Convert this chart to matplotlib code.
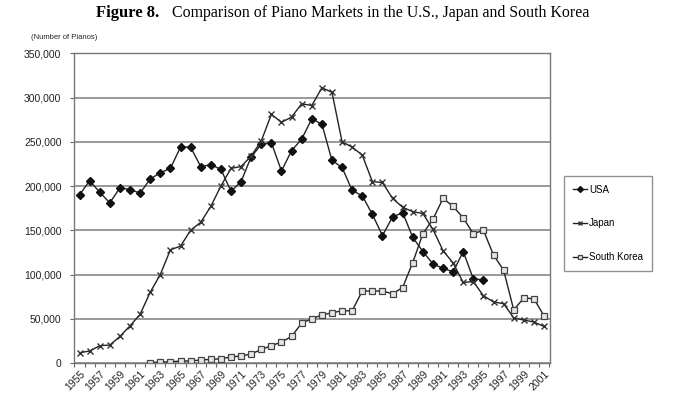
import matplotlib
matplotlib.use('Agg')
import matplotlib.pyplot as plt
import numpy as np

# data
years = list(range(1955, 2002))
usa_years = list(range(1955, 1996))
usa = [190000, 206000, 193000, 181000, 198000, 196000, 192000, 208000, 215000, 220000,
       244000, 244000, 222000, 224000, 219000, 194000, 205000, 233000, 247000, 249000,
       217000, 240000, 253000, 276000, 270000, 229000, 221000, 195000, 189000, 168000,
       144000, 165000, 170000, 142000, 126000, 112000, 107000, 103000, 126000, 95000,
       94000]
japan = [11600, 13500, 19500, 20300, 30000, 42000, 55000, 80000, 100000, 128000,
         132000, 150000, 159000, 177000, 200000, 220000, 222000, 234000, 251000, 281000,
         272000, 278000, 293000, 291000, 311000, 306000, 250000, 244000, 235000, 205000,
         204000, 186000, 176000, 171000, 169000, 151000, 127000, 113000, 91000, 92000,
         76000, 69000, 67000, 51000, 48500, 46300, 41300]
korea_years = list(range(1962, 2002))
korea = [500, 1100, 1300, 2200, 2300, 3400, 4000, 4800, 6800, 7900,
         10100, 15300, 19500, 23700, 30000, 45000, 50000, 54200, 56800, 59000,
         59000, 81300, 81300, 81300, 78200, 85300, 113500, 146000, 162500, 186000,
         177000, 164000, 146000, 150000, 122000, 105000, 60000, 73400, 72600, 53400]
yticks = list(range(0, 350001, 50000))

fig = plt.figure(figsize=(6.94, 3.98), dpi=100)
ax = fig.add_axes([0.1066, 0.088, 0.686, 0.778])

lc = '#222222'
ax.plot(usa_years, usa, color=lc, lw=1.0, marker='D', ms=4, mfc='#111111', mec='#111111', label='USA')
ax.plot(years, japan, color=lc, lw=1.0, marker='x', ms=4.5, mew=1.0, mec='#333333', label='Japan')
ax.plot(korea_years, korea, color=lc, lw=1.0, marker='s', ms=4.5, mfc='#e6e6e6', mec='#444444', mew=0.9,
        label='South Korea')

ax.set_xlim(1954.45, 2001.6)
ax.set_ylim(0, 350000)
ax.set_yticks(yticks)
ax.set_yticklabels([f'{v:,}' for v in yticks], fontsize=7.5, family='Liberation Sans', color='#222222')
ax.yaxis.grid(True, color='#888888', lw=1.2)
ax.set_axisbelow(True)
ax.tick_params(axis='y', length=3, width=0.8, color='#666666', pad=6)

ax.set_xticks(range(1955, 2002, 2))
ax.set_xticklabels([str(y) for y in range(1955, 2002, 2)], rotation=45, ha='right',
                   rotation_mode='anchor', fontsize=7.5, family='Liberation Sans', color='#222222')
ax.set_xticks(np.arange(1954.5, 2002, 1), minor=True)
ax.tick_params(axis='x', which='major', length=0, pad=4)
ax.tick_params(axis='x', which='minor', length=3, width=0.8, color='#666666')
for s in ax.spines.values():
    s.set_color('#777777')
    s.set_linewidth(1.0)

fig.text(0.229, 0.967, 'Figure 8.', fontsize=12, family='Liberation Serif', weight='bold',
         ha='right', va='center')
fig.text(0.248, 0.967, 'Comparison of Piano Markets in the U.S., Japan and South Korea',
         fontsize=11.4, family='Liberation Serif', ha='left', va='center')
fig.text(0.045, 0.907, '(Number of Pianos)', fontsize=5.5, family='Liberation Sans', color='#222222',
         va='center')

leg = fig.legend(loc='upper left', bbox_to_anchor=(0.8127, 0.558), frameon=True, fancybox=False,
                 edgecolor='#777777', handlelength=1.5, handletextpad=0.2, labelspacing=2.45,
                 borderpad=0.9, borderaxespad=0, markerscale=0.75,
                 prop={'family': 'Liberation Sans', 'size': 7})
leg.get_frame().set_linewidth(1.0)

fig.savefig('out.png', dpi=100, facecolor='white')
